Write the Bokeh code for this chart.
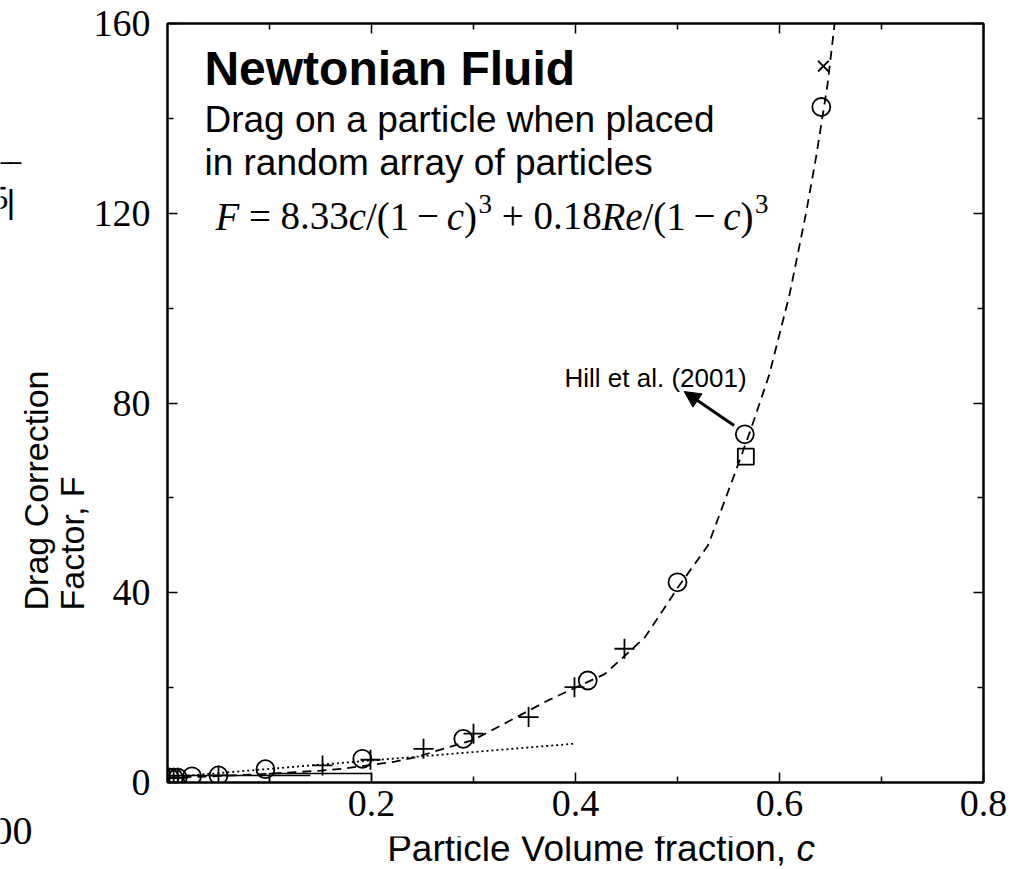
import math
from bokeh.plotting import figure
from bokeh.layouts import row, column
from bokeh.models import Range1d, LinearAxis, FixedTicker, Label, Arrow, NormalHead, CustomJSTickFormatter
from bokeh.embed import file_html
from bokeh.resources import INLINE
from bokeh.core.properties import value

# ---------------- data ----------------
circle_c = [0.002, 0.006, 0.010, 0.024, 0.050, 0.096, 0.191, 0.290, 0.412, 0.500, 0.566, 0.641]
circle_F = [1.0, 1.0, 1.0, 1.3, 1.5, 2.8, 5.0, 9.2, 21.5, 42.2, 73.4, 142.4]

plus_c = [0.002, 0.006, 0.010, 0.050, 0.152, 0.199, 0.251, 0.300, 0.354, 0.399, 0.448]
plus_F = [1.0, 1.0, 1.0, 1.5, 3.6, 4.8, 7.1, 10.3, 13.8, 20.1, 28.2]

xmark_c = [0.643]
xmark_F = [151.0]

square_c = [0.567]
square_F = [68.7]

fit_c = [0.0, 0.05, 0.10, 0.15, 0.171, 0.20, 0.223, 0.245, 0.267, 0.30, 0.324, 0.373, 0.40,
         0.429, 0.468, 0.494, 0.50, 0.53, 0.556, 0.572, 0.59, 0.61, 0.626, 0.636, 0.647, 0.653, 0.66]
fit_F = [1.0, 1.35, 1.85, 2.5, 2.9, 3.7, 4.4, 5.4, 6.9, 9.0, 11.7, 17.3, 20.0,
         22.9, 30.6, 39.0, 41.0, 50.0, 65.0, 74.5, 86.0, 103.0, 120.0, 132.0, 147.0, 158.0, 172.0]

low_c = [0.0, 0.40]
low_F = [1.1, 8.2]

box_c = [0.10, 0.10, 0.20, 0.20]
box_F = [0.0, 1.9, 1.9, 0.0]
base_c = [0.0, 0.14]
base_F = [1.45, 1.45]

x_ticks = [0.2, 0.4, 0.6, 0.8]
x_minor = [0.1, 0.3, 0.5, 0.7]
y_ticks = [0, 40, 80, 120, 160]
y_minor = [20, 60, 100, 140]

x_title = "Particle Volume fraction, "
x_title_var = "c"
y_title_lines = ["Drag  Correction", "Factor, F"]

# ---------------- page geometry (canvas pixels) ----------------
W, H = 1019, 869
STRIP_W = 90          # left strip holding the y title
STRIP_H = 33          # bottom strip holding the x title
FL, FR, FT, FB = 165, 983, 23, 782
SERIF = "Liberation Serif"
SANS = "Liberation Sans"
SHIFT = 0.36          # em correction so that the drawn baseline lands where wanted

main_w = W - STRIP_W
main_h = H - STRIP_H
p = figure(width=main_w, height=main_h, x_range=Range1d(0, 0.8), y_range=Range1d(0, 160),
           output_backend="svg", toolbar_location=None, title=None,
           min_border_left=FL - STRIP_W, min_border_right=W - FR,
           min_border_top=FT, min_border_bottom=main_h - FB)
p.background_fill_color = "white"
p.border_fill_color = "white"
p.outline_line_color = "black"
p.outline_line_width = 2
p.xgrid.visible = False
p.ygrid.visible = False


def px2c(x):
    return (x - FL) / (FR - FL) * 0.8


def px2F(y):
    return (FB - y) / (FB - FT) * 160.0


def style_axis(ax, labels=True, standoff=10):
    ax.axis_line_width = 2
    ax.axis_line_color = "black"
    ax.major_tick_in = 10
    ax.major_tick_out = 0
    ax.minor_tick_in = 6
    ax.minor_tick_out = 0
    ax.major_tick_line_width = 1.5
    ax.minor_tick_line_width = 1.5
    if labels:
        ax.major_label_text_font = SERIF
        ax.major_label_text_font_size = "38px"
        ax.major_label_text_color = "black"
        ax.major_label_standoff = standoff
    else:
        ax.formatter = CustomJSTickFormatter(code="return '';")
        ax.major_label_text_font_size = "1px"
        ax.major_label_standoff = 0


p.xaxis[0].ticker = FixedTicker(ticks=x_ticks, minor_ticks=x_minor)
p.yaxis[0].ticker = FixedTicker(ticks=y_ticks, minor_ticks=y_minor)
style_axis(p.xaxis[0], True, 8)
style_axis(p.yaxis[0], True, 17)

top = LinearAxis(ticker=FixedTicker(ticks=x_ticks, minor_ticks=x_minor))
right = LinearAxis(ticker=FixedTicker(ticks=y_ticks, minor_ticks=y_minor))
style_axis(top, False)
style_axis(right, False)
p.add_layout(top, "above")
p.add_layout(right, "right")

# ---------------- curves and marks ----------------
p.line(box_c, box_F, line_color="black", line_width=1.5)
p.line(base_c, base_F, line_color="black", line_width=1.5)
p.line(low_c, low_F, line_color="black", line_width=1.8, line_dash="2 3")
p.line(fit_c, fit_F, line_color="black", line_width=1.8, line_dash="9 6")

p.scatter(circle_c, circle_F, marker="circle", size=18, fill_color=None,
          line_color="black", line_width=1.8)
p.scatter(plus_c, plus_F, marker="cross", size=20, line_color="black", line_width=1.8)
p.scatter(xmark_c, xmark_F, marker="x", size=15, line_color="black", line_width=1.8)
p.scatter(square_c, square_F, marker="square", size=16, fill_color=None,
          line_color="black", line_width=1.8)


# ---------------- annotations inside the frame ----------------
def add_label(xpx, ypx, text, size, font=SANS, style="normal", align="left"):
    yb = ypx - SHIFT * size
    p.add_layout(Label(x=px2c(xpx), y=px2F(yb), text=text, text_font=font,
                       text_font_size=f"{size}px", text_font_style=style,
                       text_align=align, text_baseline="alphabetic", text_color="black"))


add_label(202, 85, "Newtonian Fluid", 48, style="bold")
add_label(202, 132, "Drag on a particle when placed", 37)
add_label(202, 175, "in random array of particles", 37)

fs = 39
x0, base = 213, 230
pieces = [
    ("F", "italic", 0.0, False),
    ("=", "normal", 0.861, False),
    ("8.33", "normal", 1.675, False),
    ("c", "italic", 3.425, False),
    ("/(1", "normal", 3.869, False),
    ("\u2212", "normal", 5.18, False),
    ("c", "italic", 5.944, False),
    (")", "normal", 6.388, False),
    ("3", "normal", 6.76, True),
    ("+", "normal", 7.36, False),
    ("0.18", "normal", 8.174, False),
    ("Re", "italic", 9.924, False),
    ("/(1", "normal", 10.979, False),
    ("\u2212", "normal", 12.29, False),
    ("c", "italic", 13.054, False),
    (")", "normal", 13.498, False),
    ("3", "normal", 13.87, True),
]
for txt, st, off, sup in pieces:
    if sup:
        add_label(x0 + off * fs, base - 0.42 * fs, txt, int(fs * 0.7), font=SERIF, style=st)
    else:
        add_label(x0 + off * fs, base, txt, fs, font=SERIF, style=st)

add_label(563, 387, "Hill et al. (2001)", 26)
p.add_layout(Arrow(end=NormalHead(size=16, fill_color="black", line_color="black"),
                   x_start=px2c(733), y_start=px2F(425), x_end=px2c(683), y_end=px2F(391),
                   line_width=3, line_color="black"))


# ---------------- strips for the texts outside the frame ----------------
def strip(w, h):
    s = figure(width=w, height=h, x_range=Range1d(0, w), y_range=Range1d(0, h),
               x_axis_location=None, y_axis_location=None, output_backend="svg",
               toolbar_location=None, title=None, min_border=0)
    s.outline_line_color = None
    s.xgrid.visible = False
    s.ygrid.visible = False
    s.background_fill_color = "white"
    s.border_fill_color = "white"
    return s


def strip_text(s, xpx, ypx, text, size, font, style="normal", align="left"):
    yb = ypx - SHIFT * size
    s.text(x=[xpx], y=[H - yb], text=[text],
           text_font=value(font), text_font_size=f"{size}px", text_font_style=style,
           text_align=align, text_baseline="alphabetic", text_color="black")


left = strip(STRIP_W, H)
# rotated y title, both lines starting at the same height
left.text(x=[35, 71], y=[H - 610, H - 610], text=y_title_lines, angle=math.pi / 2,
          text_font=value(SANS), text_font_size="34px", text_align="left",
          text_baseline="middle", text_color="black")
# fragments cropped at the left edge of the original picture
strip_text(left, 32, 845, "00", 40, SERIF, align="right")
strip_text(left, 8, 210, "5", 34, SERIF, align="right")
strip_text(left, 6, 213, "|", 34, SANS)
strip_text(left, 0, 186, "\u203e\u203e", 30, SANS)

bottom = strip(main_w, STRIP_H)
bx = 806 - STRIP_W
yb = 861 - SHIFT * 37
bottom.text(x=[bx], y=[H - yb], text=[x_title], text_font=value(SANS), text_font_size="37px",
            text_align="right", text_baseline="alphabetic", text_color="black")
bottom.text(x=[bx], y=[H - yb], text=[x_title_var], text_font=value(SANS), text_font_size="37px",
            text_font_style="italic", text_align="left", text_baseline="alphabetic",
            text_color="black")

layout = row(left, column(p, bottom, spacing=0), spacing=0)
open("out.html", "w").write(file_html(layout, INLINE))
